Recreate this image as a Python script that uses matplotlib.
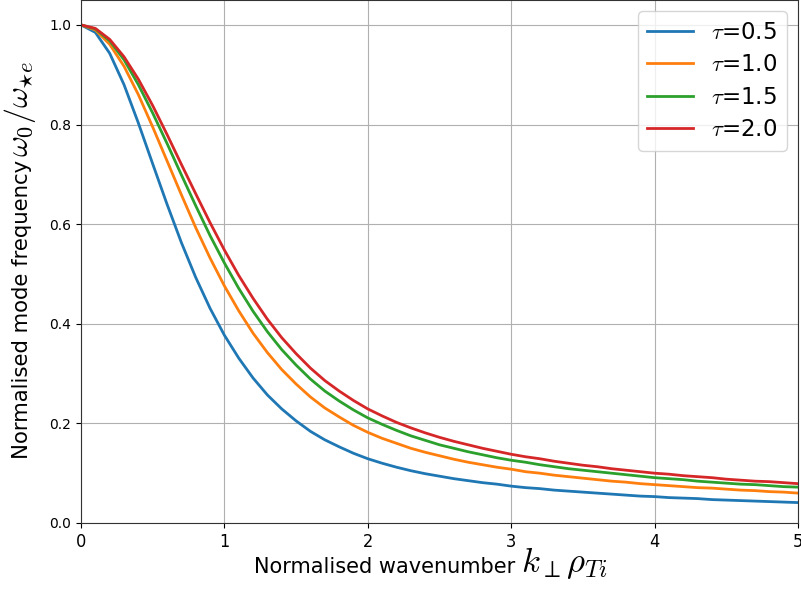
import numpy as np
import matplotlib
matplotlib.use('Agg')
import matplotlib.pyplot as plt

plt.rcParams['mathtext.fontset'] = 'cm'

k = np.round(np.arange(0, 5.01, 0.1), 1)
taus = [0.5, 1.0, 1.5, 2.0]
w_tau05 = [1.000, 0.985, 0.943, 0.880, 0.803, 0.721, 0.640, 0.563, 0.493, 0.431,
           0.377, 0.331, 0.291, 0.257, 0.229, 0.205, 0.184, 0.167, 0.153, 0.140,
           0.129, 0.120, 0.112, 0.105, 0.099, 0.094, 0.089, 0.085, 0.081, 0.078,
           0.074, 0.071, 0.069, 0.066, 0.064, 0.062, 0.060, 0.058, 0.056, 0.054,
           0.053, 0.051, 0.050, 0.049, 0.047, 0.046, 0.045, 0.044, 0.043, 0.042,
           0.041]
w_tau10 = [1.000, 0.990, 0.961, 0.917, 0.860, 0.795, 0.727, 0.659, 0.593, 0.532,
           0.476, 0.426, 0.381, 0.342, 0.308, 0.279, 0.253, 0.231, 0.213, 0.196,
           0.182, 0.170, 0.160, 0.150, 0.142, 0.135, 0.128, 0.122, 0.117, 0.112,
           0.108, 0.103, 0.100, 0.096, 0.093, 0.090, 0.087, 0.084, 0.082, 0.079,
           0.077, 0.075, 0.073, 0.071, 0.070, 0.068, 0.066, 0.065, 0.063, 0.062,
           0.060]
w_tau15 = [1.000, 0.992, 0.968, 0.930, 0.880, 0.823, 0.762, 0.699, 0.637, 0.577,
           0.522, 0.471, 0.425, 0.384, 0.348, 0.317, 0.289, 0.265, 0.245, 0.227,
           0.211, 0.198, 0.186, 0.175, 0.166, 0.157, 0.150, 0.143, 0.137, 0.131,
           0.126, 0.122, 0.117, 0.113, 0.109, 0.106, 0.103, 0.100, 0.097, 0.094,
           0.091, 0.089, 0.087, 0.084, 0.082, 0.080, 0.078, 0.077, 0.075, 0.073,
           0.072]
w_tau20 = [1.000, 0.993, 0.971, 0.936, 0.891, 0.838, 0.780, 0.720, 0.661, 0.603,
           0.548, 0.497, 0.451, 0.409, 0.372, 0.340, 0.311, 0.286, 0.265, 0.246,
           0.229, 0.215, 0.202, 0.191, 0.181, 0.172, 0.164, 0.157, 0.150, 0.144,
           0.138, 0.133, 0.129, 0.124, 0.120, 0.116, 0.113, 0.109, 0.106, 0.103,
           0.100, 0.098, 0.095, 0.093, 0.091, 0.088, 0.086, 0.084, 0.083, 0.081,
           0.079]

fig = plt.figure(figsize=(8.01, 5.91), dpi=100)
ax = fig.add_axes([81/801, 68/591, 717/801, 1-68/591])
for t, w in zip(taus, [w_tau05, w_tau10, w_tau15, w_tau20]):
    ax.plot(k, w, lw=2, label=r'$\tau$=%.1f' % t)
ax.set_xlim(0, 5)
ax.set_ylim(0, 1.05)
ax.grid(True)
ax.legend(fontsize=16.5, labelspacing=0.42)
for s in ax.spines.values():
    s.set_color('0.2')
ax.tick_params(axis='x', labelsize=13)
for lab in ax.get_xticklabels():
    lab.set_fontstretch('condensed')

# labels: plain text part plus a larger maths part appended to it
ax.set_xlabel('Normalised wavenumber', fontsize=15, va='baseline')
ax.xaxis.set_label_coords((385-81)/717, -50/523)
ax.set_ylabel('Normalised mode frequency', fontsize=15.3, va='baseline')
ax.yaxis.set_label_coords((28.5-81)/717, 0.409)
ax.annotate(r'$k_\perp\rho_{Ti}$', xy=(1, 0.24), xycoords=ax.xaxis.label,
            xytext=(4, 0), textcoords='offset points', fontsize=25,
            ha='left', va='baseline')
ax.annotate(r'$\omega_0/\omega_{\star e}$', xy=(0.76, 1), xycoords=ax.yaxis.label,
            xytext=(0, 2), textcoords='offset points', fontsize=23,
            ha='left', va='baseline', rotation=90, rotation_mode='anchor')
fig.savefig('out.png')
